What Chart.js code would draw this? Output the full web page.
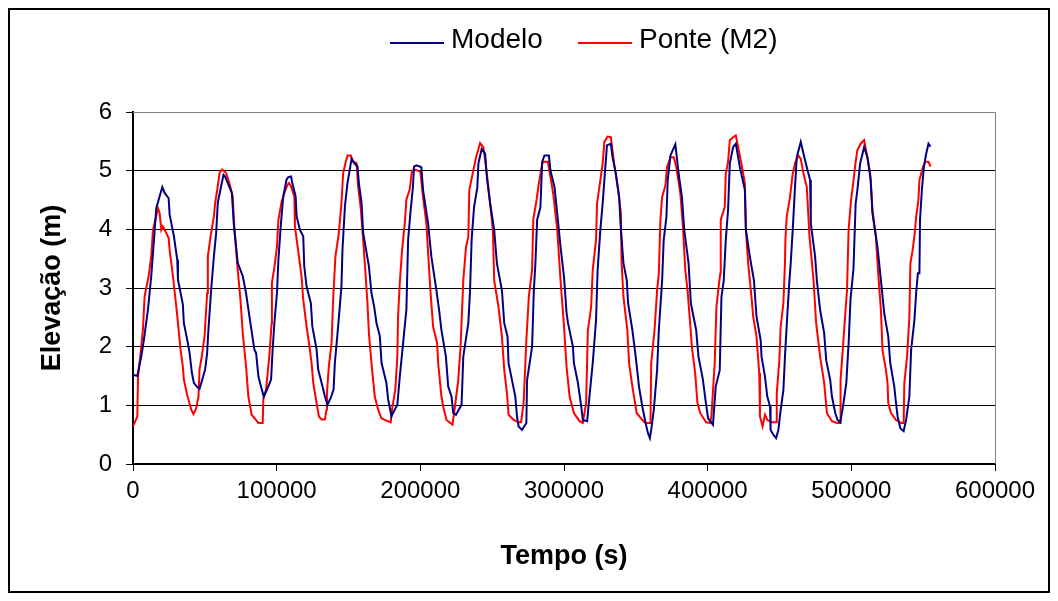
<!DOCTYPE html>
<html>
<head>
<meta charset="utf-8">
<title>Elevação - Modelo x Ponte (M2)</title>
<script src="https://cdn.jsdelivr.net/npm/chart.js@4.4.1/dist/chart.umd.min.js"></script>
<style>
    html, body { margin: 0; padding: 0; background: #fff; }
    #wrap { width: 1058px; height: 601px; position: relative; }
</style>
</head>
<body>
<div id="wrap"><canvas id="elevChart" width="1058" height="601"></canvas></div>
<script>
// Serie "Modelo" (tempo em s, elevação em m)
var modeloTempo = [
    0, 3000, 5800, 7600, 10400, 12700, 14600, 16200, 18500, 20400, 22000, 24800, 25500, 28500, 30800, 31300,
    34700, 35400, 38200, 39400, 41000, 42400, 44700, 46300, 47900, 50200, 51600, 52500, 54400, 56300, 57900,
    59000, 61300, 63000, 64100, 66000, 68800, 70100, 72900, 76400, 78700, 81000, 84500, 85700, 87300, 89100,
    91000, 93300, 96100, 97200, 98400, 100200, 101200, 103000, 104600, 106900, 108100, 110000, 110900, 113200,
    113900, 116200, 118500, 119200, 120800, 123800, 124800, 127800, 128900, 131300, 133600, 135400, 137700,
    139600, 140500, 142800, 145100, 145800, 147500, 149300, 150900, 152100, 153900, 156300, 157200, 159100,
    160200, 162600, 164200, 166000, 167800, 169500, 171800, 173000, 176400, 177600, 179000, 179900, 181000,
    184000, 185700, 188000, 190300, 190800, 191500, 193300, 194900, 195600, 197200, 199500, 200700, 201900,
    205400, 207700, 211200, 213100, 214700, 217800, 219400, 221700, 222900, 224800, 228700, 229900, 233400,
    234600, 235700, 237400, 239700, 240400, 242700, 245100, 246300, 248600, 251400, 253300, 256800, 258400,
    260700, 261400, 263800, 266100, 267300, 268400, 270800, 273800, 274300, 277800, 279000, 280100, 281300,
    283600, 284800, 286400, 289500, 290600, 293400, 295300, 297600, 300000, 301800, 302800, 306200, 306900,
    309700, 312000, 313100, 316100, 317700, 320000, 322300, 323400, 325300, 326900, 328100, 329900, 332600,
    333800, 336100, 338400, 339600, 341400, 343700, 344600, 347600, 349900, 352200, 354500, 356800, 358400,
    359800, 360700, 362500, 364800, 366000, 368300, 369400, 371300, 372200, 374100, 377500, 379800, 382100,
    383700, 386700, 388300, 392000, 393600, 396600, 398700, 400300, 403700, 405600, 408400, 409600, 411200,
    412600, 414200, 415400, 417700, 419600, 422400, 425900, 426600, 429400, 432200, 434000, 436900, 437500,
    439900, 441500, 443400, 443800, 445700, 447600, 449200, 450800, 452700, 453800, 455500, 456900, 457800,
    459200, 460800, 462000, 464800, 466700, 469000, 471300, 471800, 474800, 476000, 478300, 481100, 482500,
    485300, 486500, 488800, 490400, 492300, 494200, 496500, 498200, 499400, 501500, 503000, 504200, 506100,
    508900, 511200, 513500, 514700, 518200, 520600, 522900, 525700, 527100, 529900, 531100, 532200, 534100,
    536400, 538100, 540400, 541600, 543900, 545100, 546300, 547400, 547800, 549100, 550500, 552100, 553700,
    555100
];
var modeloElev = [
    1.52, 1.5, 1.84, 2.12, 2.63, 3.2, 3.82, 4.36, 4.56, 4.72, 4.62, 4.53, 4.25, 3.88, 3.48, 3.14,
    2.72, 2.4, 2.06, 1.89, 1.55, 1.38, 1.31, 1.28, 1.41, 1.61, 1.89, 2.29, 2.97, 3.54, 3.94,
    4.45, 4.73, 4.93, 4.9, 4.79, 4.62, 4.11, 3.43, 3.2, 2.91, 2.52, 1.95, 1.89, 1.49, 1.32,
    1.15, 1.27, 1.44, 1.95, 2.4, 2.91, 3.48, 4.11, 4.56, 4.85, 4.89, 4.9, 4.79, 4.56,
    4.22, 3.99, 3.88, 3.37, 3.03, 2.74, 2.35, 1.95, 1.61, 1.38, 1.15, 1.01, 1.13,
    1.27, 1.72, 2.35, 3.03, 3.65, 4.39, 4.79, 5.02, 5.2, 5.13, 5.07, 4.79, 4.45,
    3.94, 3.6, 3.37, 2.91, 2.69, 2.4, 2.18, 1.72, 1.38, 1.1, 0.93, 0.81, 0.87,
    1.01, 1.49, 2.06, 2.63, 3.14, 3.82, 4.34, 4.73, 5.07, 5.09, 5.07, 5.06, 4.67,
    4.1, 3.53, 2.96, 2.62, 2.28, 1.83, 1.32, 1.15, 0.87, 0.84, 1.01, 1.83, 2.4,
    2.96, 3.82, 4.38, 4.72, 5.12, 5.37, 5.29, 4.89, 4.44, 3.99, 3.42, 2.96, 2.4,
    2.17, 1.72, 1.43, 1.15, 0.81, 0.64, 0.58, 0.7, 1.43, 2.0, 2.96, 3.42, 4.16,
    4.38, 5.15, 5.26, 5.26, 5.0, 4.72, 4.27, 3.7, 3.19, 2.57, 2.4, 2.0, 1.72,
    1.38, 0.98, 0.75, 0.73, 1.15, 1.72, 2.45, 3.31, 3.99, 4.44, 4.84, 5.43, 5.46,
    5.23, 4.95, 4.55, 3.99, 3.42, 3.13, 2.74, 2.28, 1.83, 1.32, 0.98, 0.7, 0.53,
    0.44, 0.58, 0.92, 1.6, 2.28, 3.13, 3.82, 4.21, 4.84, 5.26, 5.45, 4.95, 4.55,
    3.99, 3.42, 2.74, 2.28, 1.83, 1.45, 1.05, 0.78, 0.67, 1.32, 1.6, 2.85, 3.13,
    3.82, 4.33, 5.12, 5.4, 5.46, 5.06, 4.67, 3.99, 3.53, 3.13, 2.51, 2.11, 1.83,
    1.49, 1.15, 0.98, 0.58, 0.5, 0.44, 0.58, 0.92, 1.26, 1.83, 2.57, 3.13, 3.42,
    3.99, 4.72, 5.23, 5.49, 5.29, 5.06, 4.84, 4.1, 3.53, 3.13, 2.62, 2.23, 1.77,
    1.43, 1.15, 0.87, 0.75, 0.71, 0.98, 1.38, 2.1, 2.8, 3.33, 4.44, 4.67, 5.12,
    5.4, 5.23, 4.84, 4.27, 3.7, 3.13, 2.57, 2.17, 1.72, 1.32, 1.04, 0.81, 0.61,
    0.56, 0.75, 1.15, 1.94, 2.45, 2.91, 3.25, 3.25, 4.16, 4.67, 5.06, 5.29, 5.46,
    5.41
];

// Serie "Ponte (M2)"
var ponteTempo = [
    0, 1600, 3000, 3500, 5300, 6900, 8100, 10900, 12700, 13900, 15500, 17400, 18500, 19700, 20800, 23100,
    24800, 25500, 27800, 30100, 31300, 33100, 34700, 35400, 37700, 40500, 42100, 44000, 45600, 46300, 47900,
    49800, 51600, 52100, 54000, 56300, 57200, 59000, 60200, 62000, 64800, 67100, 69400, 70600, 72900, 74800,
    76400, 78700, 80300, 82600, 85000, 87300, 90300, 90700, 92600, 94900, 96500, 96700, 98400, 100200, 101200,
    103500, 105800, 107600, 108600, 110000, 112300, 112700, 115500, 117300, 118500, 120800, 123100, 124300,
    125500, 127800, 129400, 131300, 133600, 134700, 135000, 136300, 138200, 139300, 140900, 143300, 145100,
    146300, 147900, 149300, 151600, 153200, 155600, 156700, 158600, 160200, 161800, 163200, 164200, 166400,
    168300, 170600, 172900, 176400, 179400, 180300, 182600, 184000, 184500, 185700, 187300, 189200, 190300,
    192600, 194200, 196100, 198400, 200000, 201900, 204200, 207000, 208900, 211700, 212400, 214700, 215900,
    218200, 222400, 224100, 226400, 228000, 229900, 231800, 233400, 234100, 236400, 238800, 241600, 243900,
    246300, 248100, 250500, 251400, 254400, 256800, 258400, 260300, 261400, 265000, 268400, 270100, 271900,
    273800, 275500, 277800, 278600, 280900, 282500, 284800, 286000, 288800, 290600, 292500, 295300, 297600,
    300000, 301800, 303900, 306900, 310800, 313100, 315400, 316600, 318900, 320000, 322300, 323000, 325300,
    326900, 328100, 330300, 332600, 334900, 337700, 339600, 340100, 341400, 344100, 345300, 347600, 350600,
    354500, 356800, 360200, 360700, 363000, 364800, 366000, 367100, 368300, 370600, 371700, 374100, 376400,
    378200, 381000, 382800, 384400, 386000, 387800, 389000, 391300, 392900, 394800, 398900, 401700, 402600,
    404900, 406100, 407900, 408800, 409100, 411900, 412600, 414200, 415400, 417700, 419600, 421200, 423500,
    425900, 426600, 428200, 430500, 431700, 434000, 435900, 436400, 438200, 439900, 441500, 444600, 447600,
    448100, 449900, 450800, 452700, 453800, 454100, 455000, 457300, 459200, 460800, 463100, 464800, 466700,
    469000, 470900, 473700, 475500, 478300, 481100, 483000, 486500, 490000, 492300, 492500, 494200, 495800,
    497000, 498100, 499800, 500700, 503000, 504200, 506500, 508900, 510700, 513100, 514700, 517100, 518700,
    520600, 521700, 524100, 525200, 525700, 527600, 531100, 534600, 536400, 536900, 538800, 540400, 541100,
    542700, 544400, 545100, 546700, 547400, 549800, 551400, 553700, 555100
];
var ponteElev = [
    0.64, 0.73, 0.81, 1.49, 1.89, 2.29, 2.86, 3.2, 3.54, 3.99, 4.16, 4.36, 4.28, 3.99, 4.05, 3.94,
    3.85, 3.65, 3.2, 2.69, 2.4, 1.95, 1.66, 1.44, 1.18, 0.93, 0.85, 0.95, 1.15, 1.61, 1.84,
    2.18, 2.91, 3.54, 3.88, 4.22, 4.45, 4.73, 4.96, 5.02, 4.96, 4.79, 4.56, 3.99, 3.31, 2.8,
    2.23, 1.66, 1.15, 0.84, 0.77, 0.7, 0.7, 1.1, 1.27, 1.84, 2.4, 3.09, 3.35, 3.7, 4.16,
    4.48, 4.65, 4.76, 4.79, 4.73, 4.56, 4.05, 3.54, 3.2, 2.8, 2.35, 1.95, 1.72,
    1.38, 1.04, 0.81, 0.76, 0.76, 0.93, 1.21, 1.66, 2.06, 2.8, 3.54, 3.94, 4.45,
    4.96, 5.13, 5.26, 5.26, 5.16, 5.13, 4.73, 4.34, 3.82, 3.26, 2.74, 2.23, 1.61,
    1.15, 0.93, 0.78, 0.74, 0.71, 0.93, 1.27, 1.84, 2.52, 3.09, 3.65, 4.11, 4.51,
    4.68, 5.0, 5.02, 5.0, 4.98, 4.55, 4.1, 2.96, 2.34, 2.06, 1.72, 1.15, 0.98,
    0.75, 0.67, 0.98, 1.43, 2.0, 3.13, 3.7, 3.87, 4.67, 4.95, 5.23, 5.47, 5.4,
    4.95, 4.55, 3.99, 3.13, 2.68, 2.17, 1.6, 1.21, 0.84, 0.75, 0.71, 0.71, 1.04,
    2.11, 2.85, 3.31, 4.16, 4.5, 4.78, 5.12, 5.15, 5.15, 4.89, 4.61, 3.99, 3.13,
    2.35, 1.65, 1.15, 0.87, 0.73, 0.7, 1.04, 2.28, 2.68, 3.31, 3.82, 4.44, 4.84,
    5.12, 5.49, 5.58, 5.57, 5.12, 4.67, 4.27, 3.42, 2.85, 2.28, 1.72, 1.32, 0.87,
    0.75, 0.7, 0.7, 1.72, 2.28, 2.96, 3.25, 4.16, 4.55, 4.75, 5.06, 5.23, 5.23,
    5.06, 4.61, 4.04, 3.31, 2.96, 2.4, 2.0, 1.55, 1.04, 0.87, 0.71, 0.7, 0.81,
    1.72, 2.68, 3.08, 3.25, 4.16, 4.38, 4.95, 5.15, 5.52, 5.57, 5.6, 5.4, 5.12,
    4.78, 3.99, 3.42, 2.85, 2.51, 2.17, 1.55, 0.81, 0.64, 0.84, 0.75, 0.71, 0.71,
    1.21, 1.77, 2.34, 2.74, 3.42, 3.82, 4.21, 4.55, 4.95, 5.12, 5.26, 5.2, 4.95,
    4.72, 3.87, 3.13, 2.4, 1.83, 1.38, 0.87, 0.73, 0.7, 0.7, 1.43, 2.0, 2.57,
    2.96, 3.99, 4.5, 4.67, 5.15, 5.35, 5.46, 5.52, 5.29, 4.95, 4.33, 3.87, 3.25,
    2.62, 1.94, 1.6, 1.38, 1.04, 0.87, 0.75, 0.7, 0.7, 1.38, 1.83, 2.51, 3.42,
    3.65, 3.99, 4.21, 4.5, 4.84, 5.06, 5.15, 5.15, 5.07
];

var seriesLabels = ['Modelo', 'Ponte (M2)'];
var seriesColors = ['#000080', '#ff0000'];
var xTickStep = 100000;
var yTickStep = 1;

var FONT = "'Liberation Sans', Arial, sans-serif";

function toPoints(xs, ys) {
    var pts = [];
    for (var i = 0; i < xs.length; i++) {
        pts.push({ x: xs[i], y: ys[i] });
    }
    return pts;
}

// legenda desenhada à mão, no estilo do Excel
var legendPlugin = {
    id: 'excelLegend',
    afterDraw: function(chart) {
        var ctx = chart.ctx;
        var items = [
            { x: 390, ds: chart.data.datasets[0] },
            { x: 578, ds: chart.data.datasets[1] }
        ];
        ctx.save();
        ctx.font = '28px ' + FONT;
        ctx.textBaseline = 'middle';
        ctx.textAlign = 'left';
        items.forEach(function(it) {
            ctx.strokeStyle = it.ds.borderColor;
            ctx.lineWidth = 2;
            ctx.beginPath();
            ctx.moveTo(it.x, 43);
            ctx.lineTo(it.x + 54, 43);
            ctx.stroke();
            ctx.fillStyle = '#000';
            ctx.fillText(it.ds.label, it.x + 61, 40);
        });
        ctx.restore();
    }
};

// moldura externa do gráfico e fundo branco
var framePlugin = {
    id: 'frame',
    beforeDraw: function(chart) {
        var ctx = chart.ctx;
        ctx.save();
        ctx.fillStyle = '#fff';
        ctx.fillRect(0, 0, chart.width, chart.height);
        ctx.restore();
    },
    afterDraw: function(chart) {
        var ctx = chart.ctx;
        var a = chart.chartArea;
        ctx.save();
        ctx.strokeStyle = '#808080';
        ctx.lineWidth = 1;
        ctx.beginPath();
        ctx.moveTo(a.left, a.top + 0.5);
        ctx.lineTo(a.right + 0.5, a.top + 0.5);
        ctx.lineTo(a.right + 0.5, a.bottom);
        ctx.stroke();
        ctx.strokeStyle = '#000';
        ctx.lineWidth = 2;
        ctx.strokeRect(9, 9, 1040, 583);
        ctx.restore();
    }
};

var ctx = document.getElementById('elevChart').getContext('2d');
var elevChart = new Chart(ctx, {
    type: 'scatter',
    data: {
        datasets: [
            {
                label: seriesLabels[0],
                data: toPoints(modeloTempo, modeloElev),
                showLine: true,
                borderColor: seriesColors[0],
                backgroundColor: seriesColors[0],
                borderWidth: 2,
                pointRadius: 0,
                tension: 0
            },
            {
                label: seriesLabels[1],
                data: toPoints(ponteTempo, ponteElev),
                showLine: true,
                borderColor: seriesColors[1],
                backgroundColor: seriesColors[1],
                borderWidth: 2,
                pointRadius: 0,
                tension: 0
            }
        ]
    },
    options: {
        responsive: false,
        animation: false,
        layout: {
            padding: { top: 112, right: 63, bottom: 0, left: 0 }
        },
        plugins: {
            legend: { display: false },
            tooltip: { enabled: false }
        },
        scales: {
            x: {
                type: 'linear',
                min: 0,
                max: 600000,
                afterFit: function(scale) { scale.height = 137; },
                ticks: {
                    stepSize: xTickStep,
                    color: '#000',
                    padding: 6,
                    maxRotation: 0,
                    font: { family: FONT, size: 24 },
                    callback: function(v) { return String(v); }
                },
                grid: {
                    drawOnChartArea: false,
                    tickLength: 7,
                    tickColor: '#000'
                },
                border: { color: '#000', width: 2 },
                title: {
                    display: true,
                    text: 'Tempo (s)',
                    color: '#000',
                    font: { family: FONT, size: 27, weight: 'bold' },
                    padding: { top: 0, bottom: 28 }
                }
            },
            y: {
                min: 0,
                max: 6,
                afterFit: function(scale) { scale.width = 133; },
                ticks: {
                    stepSize: yTickStep,
                    color: '#000',
                    padding: 14,
                    font: { family: FONT, size: 24 }
                },
                grid: {
                    color: function(c) {
                        return c.tick && c.tick.value === 6 ? '#808080' : '#000';
                    },
                    tickColor: '#000',
                    tickLength: 7,
                    lineWidth: 1
                },
                border: { color: '#000', width: 2 },
                title: {
                    display: true,
                    text: 'Elevação (m)',
                    color: '#000',
                    font: { family: FONT, size: 27, weight: 'bold' },
                    padding: { top: 36, bottom: 0 }
                }
            }
        }
    },
    plugins: [framePlugin, legendPlugin]
});
</script>
</body>
</html>
